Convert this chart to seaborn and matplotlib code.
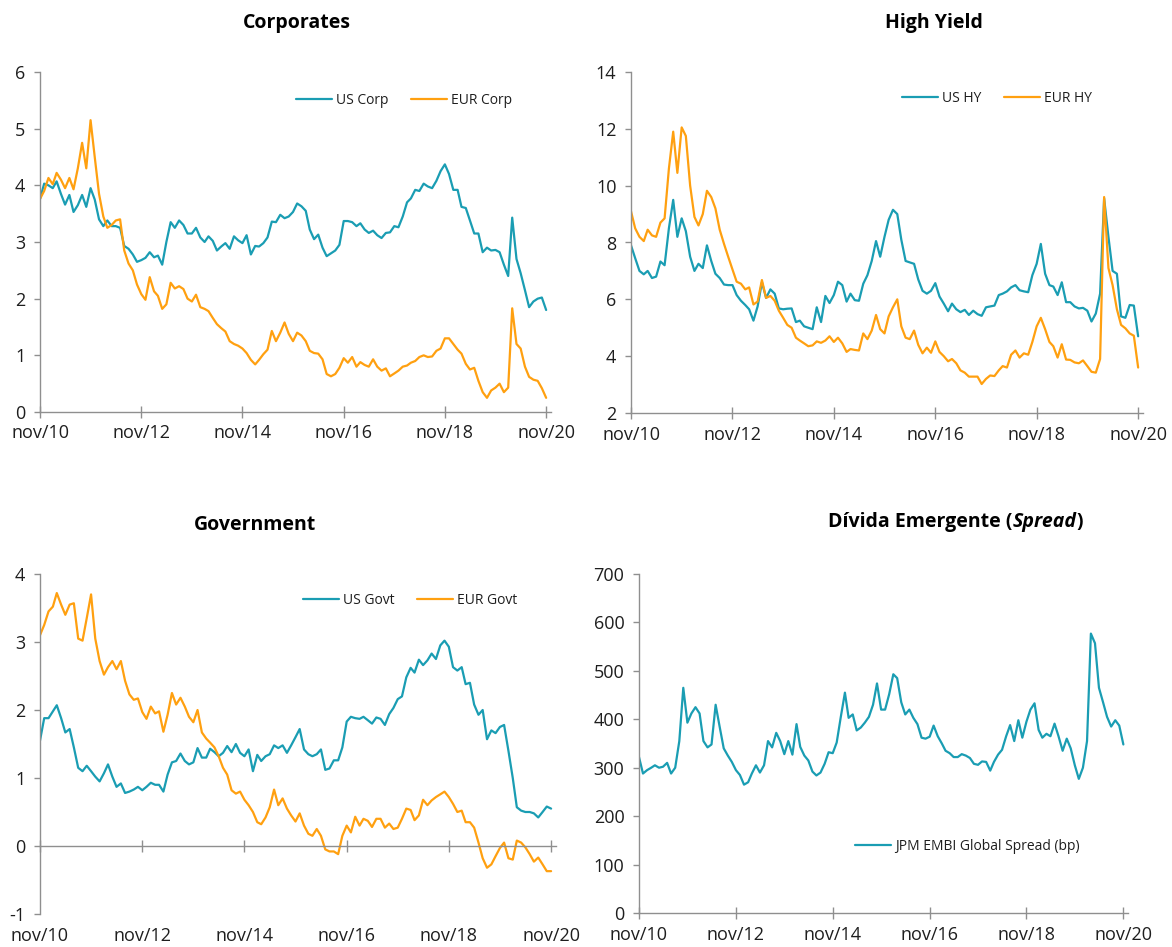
import numpy as np
import pandas as pd
import seaborn as sns
import matplotlib.pyplot as plt
import matplotlib.dates as mdates

# monthly observations, nov/10 .. nov/20
dates = pd.date_range('2010-11-01', periods=121, freq='MS')

us_corp = [3.76, 4.03, 4.00, 3.95, 4.07, 3.85, 3.66, 3.83, 3.53, 3.65,
           3.83, 3.62, 3.95, 3.75, 3.40, 3.28, 3.38, 3.28, 3.28, 3.25,
           2.93, 2.88, 2.78, 2.65, 2.68, 2.72, 2.82, 2.73, 2.76, 2.60,
           3.00, 3.35, 3.25, 3.38, 3.30, 3.15, 3.15, 3.25, 3.08, 3.00,
           3.10, 3.02, 2.85, 2.92, 2.98, 2.88, 3.10, 3.03, 2.98, 3.12,
           2.78, 2.93, 2.92, 2.98, 3.08, 3.36, 3.35, 3.48, 3.42, 3.45,
           3.53, 3.68, 3.63, 3.55, 3.22, 3.05, 3.13, 2.90, 2.75, 2.80,
           2.85, 2.95, 3.37, 3.37, 3.35, 3.28, 3.33, 3.22, 3.16, 3.20,
           3.12, 3.07, 3.16, 3.17, 3.28, 3.26, 3.45, 3.70, 3.77, 3.92,
           3.90, 4.03, 3.98, 3.95, 4.08, 4.25, 4.37, 4.20, 3.92, 3.92,
           3.62, 3.60, 3.38, 3.15, 3.15, 2.82, 2.90, 2.85, 2.86, 2.82,
           2.60, 2.40, 3.43, 2.70, 2.45, 2.15, 1.85, 1.95, 2.00, 2.02,
           1.80]
eur_corp = [3.76, 3.90, 4.13, 4.02, 4.22, 4.10, 3.95, 4.13, 3.93, 4.30,
            4.75, 4.30, 5.15, 4.50, 3.85, 3.45, 3.25, 3.30, 3.38, 3.40,
            2.85, 2.62, 2.50, 2.25, 2.08, 1.98, 2.38, 2.13, 2.05, 1.82,
            1.90, 2.28, 2.18, 2.22, 2.17, 2.00, 1.95, 2.07, 1.85, 1.82,
            1.78, 1.66, 1.55, 1.48, 1.42, 1.25, 1.20, 1.17, 1.12, 1.04,
            0.92, 0.84, 0.92, 1.02, 1.10, 1.43, 1.25, 1.40, 1.58, 1.38,
            1.25, 1.40, 1.35, 1.25, 1.08, 1.04, 1.03, 0.93, 0.67, 0.63,
            0.67, 0.78, 0.95, 0.87, 0.97, 0.80, 0.88, 0.83, 0.80, 0.93,
            0.80, 0.73, 0.77, 0.63, 0.68, 0.73, 0.80, 0.82, 0.87, 0.90,
            0.97, 1.00, 0.97, 0.98, 1.08, 1.12, 1.30, 1.30, 1.20, 1.10,
            1.03, 0.85, 0.75, 0.78, 0.55, 0.35, 0.25, 0.38, 0.43, 0.50,
            0.35, 0.43, 1.83, 1.20, 1.12, 0.80, 0.62, 0.57, 0.55, 0.42,
            0.25]

us_hy = [7.90, 7.45, 7.00, 6.88, 7.00, 6.75, 6.80, 7.33, 7.20, 8.50,
         9.50, 8.20, 8.85, 8.40, 7.50, 7.00, 7.25, 7.10, 7.90, 7.35,
         6.90, 6.75, 6.52, 6.50, 6.50, 6.15, 5.95, 5.80, 5.65, 5.25,
         5.75, 6.60, 6.05, 6.35, 6.20, 5.68, 5.65, 5.67, 5.68, 5.20,
         5.25, 5.05, 5.00, 4.95, 5.72, 5.20, 6.12, 5.87, 6.15, 6.62,
         6.50, 5.92, 6.20, 5.97, 5.95, 6.55, 6.85, 7.35, 8.05, 7.50,
         8.20, 8.80, 9.15, 9.00, 8.10, 7.35, 7.30, 7.25, 6.70, 6.30,
         6.20, 6.30, 6.57, 6.10, 5.85, 5.58, 5.85, 5.65, 5.55, 5.63,
         5.45, 5.60, 5.48, 5.42, 5.72, 5.75, 5.78, 6.15, 6.20, 6.28,
         6.42, 6.50, 6.32, 6.28, 6.25, 6.85, 7.25, 7.95, 6.90, 6.50,
         6.45, 6.15, 6.60, 5.90, 5.90, 5.75, 5.68, 5.70, 5.60, 5.22,
         5.50, 6.20, 9.55, 8.20, 7.00, 6.90, 5.40, 5.35, 5.80, 5.78,
         4.70]
eur_hy = [9.10, 8.50, 8.20, 8.05, 8.45, 8.25, 8.20, 8.70, 8.85, 10.60,
          11.90, 10.45, 12.05, 11.75, 10.00, 8.90, 8.60, 9.00, 9.82, 9.60,
          9.20, 8.45, 7.95, 7.50, 7.05, 6.62, 6.55, 6.35, 6.42, 5.82,
          5.92, 6.68, 6.05, 6.12, 5.95, 5.60, 5.35, 5.10, 5.00, 4.65,
          4.55, 4.45, 4.35, 4.38, 4.52, 4.47, 4.55, 4.70, 4.50, 4.65,
          4.45, 4.15, 4.25, 4.22, 4.20, 4.80, 4.60, 4.90, 5.45, 4.95,
          4.80, 5.40, 5.72, 6.00, 5.05, 4.65, 4.60, 4.90, 4.40, 4.10,
          4.30, 4.12, 4.52, 4.15, 4.00, 3.82, 3.90, 3.75, 3.50, 3.42,
          3.28, 3.28, 3.28, 3.02, 3.20, 3.32, 3.30, 3.50, 3.65, 3.60,
          4.05, 4.20, 3.95, 4.10, 4.05, 4.50, 5.05, 5.35, 4.95, 4.50,
          4.35, 3.95, 4.42, 3.88, 3.87, 3.78, 3.75, 3.85, 3.65, 3.45,
          3.42, 3.90, 9.60, 7.10, 6.50, 5.65, 5.10, 4.98, 4.80, 4.72,
          3.60]

us_govt = [1.55, 1.88, 1.88, 1.98, 2.07, 1.88, 1.67, 1.72, 1.45, 1.15,
           1.10, 1.18, 1.10, 1.02, 0.95, 1.07, 1.20, 1.02, 0.87, 0.92,
           0.78, 0.80, 0.83, 0.87, 0.82, 0.87, 0.93, 0.90, 0.90, 0.80,
           1.05, 1.23, 1.25, 1.36, 1.25, 1.20, 1.23, 1.44, 1.30, 1.30,
           1.43, 1.38, 1.32, 1.37, 1.47, 1.38, 1.50, 1.37, 1.32, 1.42,
           1.10, 1.34, 1.25, 1.32, 1.35, 1.48, 1.44, 1.48, 1.37, 1.48,
           1.60, 1.72, 1.42, 1.35, 1.32, 1.35, 1.42, 1.12, 1.14, 1.26,
           1.26, 1.45, 1.83, 1.90, 1.88, 1.87, 1.90, 1.85, 1.80, 1.89,
           1.87, 1.78, 1.94, 2.03, 2.16, 2.20, 2.48, 2.62, 2.55, 2.74,
           2.66, 2.73, 2.83, 2.75, 2.95, 3.02, 2.93, 2.63, 2.58, 2.63,
           2.38, 2.40, 2.08, 1.93, 2.00, 1.57, 1.70, 1.66, 1.75, 1.78,
           1.40, 1.00, 0.57, 0.52, 0.50, 0.50, 0.48, 0.42, 0.50, 0.58,
           0.55]
eur_govt = [3.10, 3.25, 3.45, 3.52, 3.72, 3.55, 3.40, 3.55, 3.57, 3.05,
            3.02, 3.35, 3.70, 3.05, 2.72, 2.52, 2.63, 2.72, 2.60, 2.72,
            2.43, 2.23, 2.15, 2.17, 1.97, 1.87, 2.05, 1.95, 1.98, 1.68,
            1.93, 2.25, 2.08, 2.18, 2.05, 1.90, 1.82, 2.00, 1.67, 1.58,
            1.52, 1.45, 1.32, 1.15, 1.05, 0.82, 0.77, 0.80, 0.68, 0.60,
            0.50, 0.35, 0.32, 0.42, 0.57, 0.83, 0.60, 0.70, 0.55, 0.45,
            0.36, 0.48, 0.30, 0.18, 0.15, 0.25, 0.15, -0.05, -0.08, -0.08,
            -0.12, 0.15, 0.30, 0.20, 0.43, 0.30, 0.40, 0.37, 0.28, 0.40,
            0.40, 0.27, 0.33, 0.25, 0.27, 0.40, 0.55, 0.53, 0.38, 0.45,
            0.68, 0.60, 0.67, 0.72, 0.76, 0.80, 0.72, 0.62, 0.50, 0.52,
            0.35, 0.35, 0.27, 0.05, -0.18, -0.32, -0.27, -0.15, -0.03, 0.05,
            -0.18, -0.20, 0.08, 0.05, -0.02, -0.12, -0.23, -0.17, -0.27, -0.37,
            -0.37]

embi = [322, 288, 295, 300, 305, 300, 302, 310, 288, 300,
        355, 465, 393, 412, 425, 412, 355, 342, 348, 430,
        385, 340, 325, 312, 295, 285, 265, 270, 288, 305,
        290, 305, 355, 342, 372, 355, 328, 355, 327, 390,
        343, 325, 315, 292, 284, 290, 308, 332, 330, 352,
        405, 455, 403, 410, 377, 383, 393, 405, 430, 474,
        420, 420, 452, 493, 485, 435, 410, 420, 403, 390,
        362, 360, 364, 387, 365, 350, 335, 330, 322, 322,
        328, 325, 320, 308, 306, 313, 312, 294, 312, 327,
        337, 365, 388, 355, 398, 362, 395, 420, 433, 378,
        362, 370, 365, 391, 365, 335, 360, 340, 305, 277,
        300, 355, 577, 557, 465, 435, 405, 385, 398, 387,
        348]

tick_dates = pd.to_datetime(['2010-11-01', '2012-11-01', '2014-11-01',
                             '2016-11-01', '2018-11-01', '2020-11-01'])
tick_labels = ['nov/10', 'nov/12', 'nov/14', 'nov/16', 'nov/18', 'nov/20']

sns.set_theme(style='white')
plt.rcParams['font.family'] = ['Open Sans', 'DejaVu Sans']
plt.rcParams['axes.unicode_minus'] = False

TEAL = '#1a9db3'
ORANGE = '#ffa010'
GREY = '#8f8f8f'
INK = '#1e1e1e'
W, H = 1172, 947

fig = plt.figure(figsize=(W / 100, H / 100), dpi=100)


def make_axes(left, top, right, bottom):
    return fig.add_axes([left / W, 1 - bottom / H, (right - left) / W, (bottom - top) / H])


def draw_panel(ax, series, names, ylim, yticks, legend_xy, colors):
    df = pd.DataFrame({
        'date': np.tile(dates, len(series)),
        'value': np.concatenate([np.asarray(s, float) for s in series]),
        'serie': np.repeat(names, len(dates)),
    })
    sns.lineplot(data=df, x='date', y='value', hue='serie', hue_order=names,
                 palette=colors, linewidth=1.6, ax=ax)
    ax.set_xlim(dates[0], dates[-1] + pd.Timedelta(days=35))
    ax.set_ylim(*ylim)
    ax.set_yticks(yticks)
    ax.set_xticks(tick_dates, tick_labels)
    ax.set_xlabel('')
    ax.set_ylabel('')
    for s in ['top', 'right']:
        ax.spines[s].set_visible(False)
    for s in ['left', 'bottom']:
        ax.spines[s].set_color(GREY)
        ax.spines[s].set_linewidth(1.0)
    ax.tick_params(axis='y', direction='out', length=4.5, width=1, color=GREY,
                   labelsize=13, labelcolor=INK, pad=6, left=True)
    ax.tick_params(axis='x', direction='inout', length=8, width=1, color=GREY,
                   labelsize=13, labelcolor=INK, pad=5, bottom=True)
    handles, labels = ax.get_legend_handles_labels()
    ax.legend(handles, labels, loc='center', bbox_to_anchor=(legend_xy[0] / W, 1 - legend_xy[1] / H),
              bbox_transform=fig.transFigure, ncol=len(names), frameon=False,
              fontsize=10, handlelength=2.6, handletextpad=0.3, columnspacing=1.6,
              labelcolor=INK)


ax1 = make_axes(40, 72, 551, 412)
draw_panel(ax1, [us_corp, eur_corp], ['US Corp', 'EUR Corp'], (0, 6), range(0, 7),
           (404, 100), [TEAL, ORANGE])

ax2 = make_axes(631, 72, 1143, 413)
draw_panel(ax2, [us_hy, eur_hy], ['US HY', 'EUR HY'], (2, 14), range(2, 15, 2),
           (997, 98), [TEAL, ORANGE])

ax3 = make_axes(40, 574, 556, 914)
draw_panel(ax3, [us_govt, eur_govt], ['US Govt', 'EUR Govt'], (-1, 4), range(-1, 5),
           (410, 600), [TEAL, ORANGE])
# zero line carries the ticks, labels stay at the bottom
ax3.spines['bottom'].set_position(('data', 0))
ax3.tick_params(axis='x', labelbottom=False)
sec = ax3.secondary_xaxis('bottom')
sec.set_xticks(mdates.date2num(tick_dates), tick_labels)
sec.spines['bottom'].set_visible(False)
sec.tick_params(axis='x', length=0, labelsize=13, labelcolor=INK, pad=9)

ax4 = make_axes(639, 574, 1128, 913)
draw_panel(ax4, [embi], ['JPM EMBI Global Spread (bp)'], (0, 700), range(0, 701, 100),
           (967, 846), [TEAL])

title_kw = dict(fontsize=14, fontweight='bold', color='black', va='center')
fig.text(297 / W, 1 - 23 / H, 'Corporates', ha='center', **title_kw)
fig.text(934 / W, 1 - 23 / H, 'High Yield', ha='center', **title_kw)
fig.text(255 / W, 1 - 525 / H, 'Government', ha='center', **title_kw)
t1 = fig.text(828 / W, 1 - 522 / H, 'Dívida Emergente (', ha='left', **title_kw)
t2 = ax4.annotate('Spread', xy=(1, 0), xycoords=t1, ha='left', va='bottom',
                  fontsize=14, fontweight='bold', style='italic', color='black')
ax4.annotate(')', xy=(1, 0), xycoords=t2, ha='left', va='bottom',
             fontsize=14, fontweight='bold', color='black')

plt.savefig('out.png', dpi=100)
